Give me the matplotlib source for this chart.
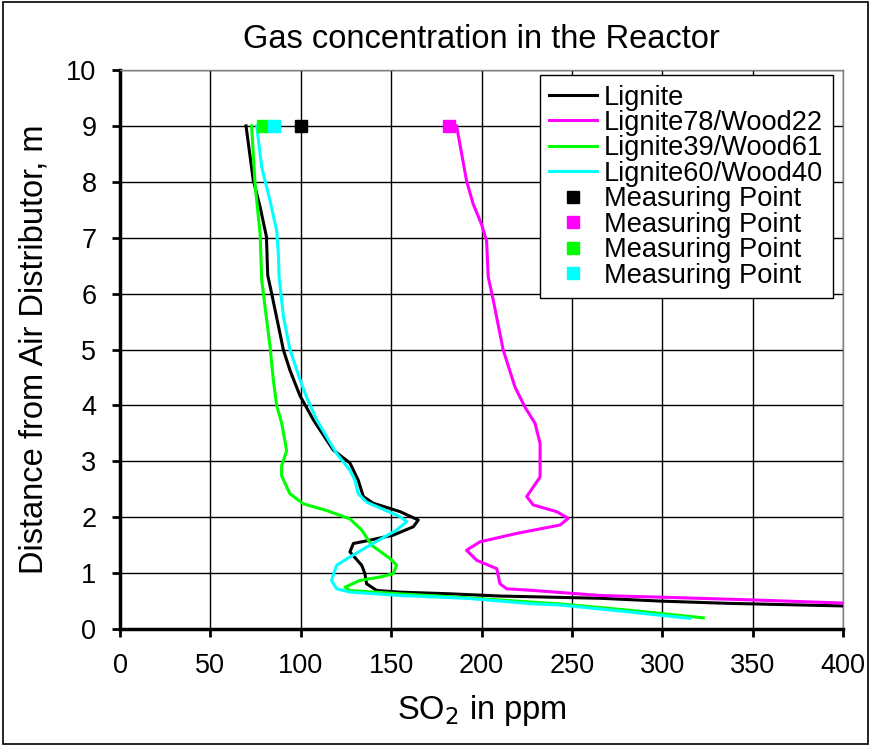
import matplotlib
matplotlib.use("Agg")
import matplotlib.pyplot as plt
from matplotlib.patches import Rectangle

plt.rcParams['font.family'] = ['Liberation Sans', 'DejaVu Sans']

# SO2 profiles along reactor height (x = ppm, y = m)
lignite_y = [9.0, 8.03, 7.55, 7.02, 6.33, 6.0, 4.99, 4.63, 4.17, 3.74, 3.2, 2.97, 2.66, 2.37, 2.25,
             2.10, 1.95, 1.83, 1.68, 1.59, 1.53, 1.38, 1.14, 0.99, 0.81, 0.69, 0.66, 0.63, 0.59,
             0.57, 0.55, 0.50, 0.46, 0.41]
lignite_x = [69.7, 73.7, 77.5, 81.0, 81.7, 83.9, 90.4, 94.0, 99.6, 107.0, 118.0, 127.2, 131.8, 134.6,
             140.1, 154.9, 165.0, 162.3, 151.2, 138.3, 129.1, 127.2, 133.7, 135.5, 136.4, 142.0,
             154.9, 182.6, 210.2, 237.9, 265.6, 298.8, 335.7, 404.0]

l78_y = [9.0, 8.02, 7.6, 7.24, 6.94, 6.3, 5.88, 4.99, 4.33, 3.97, 3.68, 3.32, 2.72, 2.37, 2.22, 2.10,
         1.98, 1.86, 1.71, 1.56, 1.41, 1.23, 1.08, 0.81, 0.72, 0.69, 0.60, 0.57, 0.52, 0.46]
l78_x = [186.2, 191.7, 195.4, 200.0, 202.8, 203.7, 206.5, 212.0, 218.5, 224.0, 229.6, 232.4, 232.4,
         225.0, 228.6, 241.5, 248.0, 243.4, 219.4, 199.2, 191.7, 197.3, 208.4, 210.2, 213.9, 228.6,
         265.6, 298.8, 350.4, 404.0]

l39_y = [9.0, 7.96, 7.07, 6.24, 5.77, 5.05, 4.46, 3.99, 3.69, 3.19, 2.92, 2.74, 2.42, 2.24, 2.12,
         1.97, 1.77, 1.50, 1.26, 1.14, 0.99, 0.93, 0.87, 0.75, 0.69, 0.63, 0.56, 0.48, 0.45, 0.34, 0.20]
l39_x = [72.8, 74.7, 77.5, 78.4, 80.2, 83.0, 84.8, 86.7, 89.4, 92.2, 89.4, 89.4, 94.0, 101.4, 114.3,
         127.2, 133.7, 139.2, 149.4, 153.0, 151.2, 143.8, 132.8, 124.5, 127.2, 154.9, 191.7, 228.6,
         243.4, 280.3, 322.7]

l60_y = [9.0, 8.26, 7.66, 7.12, 6.71, 6.3, 5.59, 5.0, 4.46, 4.14, 3.74, 3.14, 2.84, 2.66, 2.42, 2.27,
         2.01, 1.92, 1.77, 1.50, 1.29, 1.14, 0.87, 0.72, 0.66, 0.60, 0.55, 0.45, 0.43, 0.31, 0.19]
l60_x = [75.6, 78.4, 83.0, 86.7, 87.6, 88.0, 90.4, 94.0, 99.6, 103.3, 108.8, 119.8, 127.2, 130.0,
         131.8, 136.4, 154.9, 158.6, 153.0, 138.3, 127.2, 119.8, 117.0, 119.8, 127.2, 154.9, 191.7,
         228.6, 243.4, 280.3, 315.4]

# measured values at the top of the reactor
meas_height = 9.0
meas_lignite = 100
meas_l78 = 182
meas_l39 = 79
meas_l60 = 85

series_names = ["Lignite", "Lignite78/Wood22", "Lignite39/Wood61", "Lignite60/Wood40"]
colors = ["#000000", "#FF00FF", "#00FF00", "#00FFFF"]

fig = plt.figure(figsize=(8.71, 7.46), dpi=100)
ax = fig.add_axes([0.1378, 0.1568, 0.8301, 0.7494])

profiles = [(lignite_x, lignite_y), (l78_x, l78_y), (l39_x, l39_y), (l60_x, l60_y)]
for (xs, ys), name, c in zip(profiles, series_names, colors):
    ax.plot(xs, ys, color=c, lw=2.2, label=name, zorder=3)

for val, c in zip([meas_lignite, meas_l78, meas_l39, meas_l60], colors):
    ax.plot([val], [meas_height], ls='none', marker='s', ms=8, color=c,
            label="Measuring Point", zorder=4)

ax.set_xlim(0, 400)
ax.set_ylim(0, 10)
ax.set_xticks(range(0, 401, 50))
ax.set_yticks(range(0, 11))
ax.grid(True, color='black', lw=1.0)
ax.set_axisbelow(True)
ax.tick_params(axis='both', direction='out', length=6, width=2, labelsize=19.5)
ax.tick_params(axis='x', pad=11.5)
ax.tick_params(axis='y', pad=11)

for side in ['left', 'bottom']:
    ax.spines[side].set_linewidth(2.5)
for side in ['top', 'right']:
    ax.spines[side].set_color('#808080')
    ax.spines[side].set_linewidth(1.0)

ax.set_title("Gas concentration in the Reactor", fontsize=23.5, pad=16)
ax.set_xlabel("SO$_2$ in ppm", fontsize=23.5, labelpad=10)
ax.set_ylabel("Distance from Air Distributor, m", fontsize=23.5, labelpad=12)

leg = ax.legend(loc='upper right', bbox_to_anchor=(0.986, 0.991), borderaxespad=0,
                fontsize=19.6, frameon=True, fancybox=False, edgecolor='black', framealpha=1,
                handlelength=1.76, labelspacing=-0.02, borderpad=0.35, handletextpad=0.26)
leg.get_frame().set_linewidth(1.0)

fig.patches.append(Rectangle((0.003, 0.003), 0.994, 0.994, transform=fig.transFigure,
                             fill=False, edgecolor='black', lw=1.2))

fig.savefig("out.png", dpi=100)
